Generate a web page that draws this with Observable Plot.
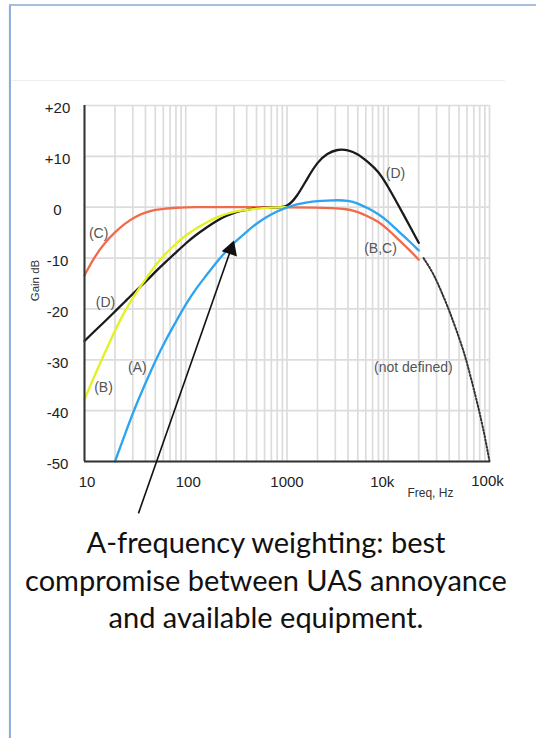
<!DOCTYPE html>
<html><head><meta charset="utf-8">
<script src="https://cdn.jsdelivr.net/npm/d3@7"></script>
<script src="https://cdn.jsdelivr.net/npm/@observablehq/plot@0.6"></script>
<style>
html,body{margin:0;padding:0;background:#fff;}
#page{position:relative;width:536px;height:738px;overflow:hidden;background:#fff;}
#frame{position:absolute;left:9px;top:4px;width:560px;height:780px;border-left:2px solid #8eaedb;border-top:2px solid #a9bedd;box-shadow:0 1px 2px rgba(0,0,0,0.12);}
#rule{position:absolute;left:12px;top:80px;width:493px;height:1px;background:#eeeeee;}
#chart{position:absolute;left:0;top:0;}
#caption{position:absolute;left:0;width:532px;top:523px;text-align:center;font-family:Lato,'Open Sans',sans-serif;font-size:29px;line-height:37.5px;color:#111;}
</style></head><body>
<div id="page"><div id="frame"></div><div id="rule"></div><div id="chart"></div>
<div id="caption">A-frequency weighting: best<br>compromise between UAS annoyance<br>and available equipment.</div></div>
<script>
// ---- data ----
const xTicks = [10, 100, 1000, 10000, 100000];
const xTickLabels = ["10", "100", "1000", "10k", "100k"];
const yTicks = [20, 10, 0, -10, -20, -30, -40, -50];
const yTickLabels = ["+20", "+10", "0", "-10", "-20", "-30", "-40", "-50"];
const gridMultipliers = [1, 2, 3, 4, 5, 6, 7, 8, 9];
const gridDecades = [10, 100, 1000, 10000];

const freqA = [20,25,31.5,40,50,63,80,100,125,160,200,250,315,400,500,630,800,1000,1250,1600,2000,2500,3150,4000,5000,6300,8000,10000,12500,16000,20000];
const gainA = [-50,-44.7,-39.4,-34.6,-30.2,-26.2,-22.5,-19.1,-16.1,-13.4,-10.9,-8.6,-6.6,-4.8,-3.2,-1.9,-0.8,0,0.6,1.0,1.2,1.3,1.4,1.3,0.8,-0.2,-1.3,-2.8,-4.7,-6.6,-8.5];

const freqB = [10,12.5,16,20,25,31.5,40,50,63,80,100,125,160,200,250,315,400,500,630,800,1000];
const gainB = [-37.8,-33.2,-28.5,-24.2,-20.4,-17.1,-14.2,-11.4,-9.1,-7.2,-5.5,-4.2,-3.0,-2.0,-1.3,-0.8,-0.5,-0.3,-0.1,0,0];

const freqC = [10,12.5,16,20,25,31.5,40,50,63,80,100,125,160,200,500,1000,2000,3150,4000,5000,6300,8000,10000,12500,16000,20000];
const gainC = [-13.4,-9.8,-6.9,-4.9,-3.2,-1.9,-1.0,-0.5,-0.25,-0.1,0,0,0,0,0,0,-0.1,-0.2,-0.4,-0.9,-1.8,-2.8,-4.4,-6.3,-8.3,-10.3];

const freqD = [10,12.5,16,20,25,31.5,40,50,63,80,100,125,160,200,250,315,400,500,630,800,1000,1250,1600,2000,2500,3150,4000,5000,6300,8000,10000,12500,16000,20000];
const gainD = [-26.3,-24.4,-22.4,-20.5,-18.6,-16.6,-14.7,-12.7,-10.8,-8.9,-7.1,-5.5,-4.0,-2.7,-1.7,-0.9,-0.5,-0.2,-0.1,0,0,2.0,5.8,8.9,10.6,11.4,11.3,10.5,8.9,7.1,4.0,0.5,-3.4,-7.0];

const freqUndef = [22300,28000,35000,41000,54000,60000,76000,90000,100000];
const gainUndef = [-10,-13,-17.5,-20.8,-27.5,-30.6,-38.5,-45,-50];

const labelText = ["(C)", "(D)", "(B)", "(A)", "(D)", "(B,C)", "(not defined)"];
const labelFreq = [13.8, 16.1, 15.4, 33.3, 11800, 8380, 17700];
const labelGain = [-5.2, -18.7, -35.4, -31.5, 6.6, -8.1, -31.5];

const arrowFreq = [34.1, 279];      // tail, head centre
const arrowGain = [-60.2, -8.3];
const arrowAngle = 19.25;

const xLabelText = ["Freq, Hz"];
const xLabelFreq = [26100];
const xLabelGain = [-56.3];
const yLabelText = ["Gain dB"];

// ---- build ----
const zip = (f, g) => f.map((v, i) => ({f: v, g: g[i]}));
const xGrid = gridDecades.flatMap(d => gridMultipliers.map(m => m * d)).concat([100000]);
const labels = labelText.map((t, i) => ({t, f: labelFreq[i], g: labelGain[i]}));
const curve = "basis";
const fmtX = d => xTickLabels[xTicks.indexOf(d)];
const xAxis = (ticks, dx, dy) => Plot.axisX({ticks, tickFormat: fmtX, tickSize: 0, tickPadding: 15, fontSize: 15, dx, dy, label: null});

const chart = Plot.plot({
  width: 536, height: 520,
  marginLeft: 84, marginRight: 47, marginTop: 105, marginBottom: 59,
  style: {fontFamily: "'Liberation Sans', Arial, sans-serif", fontSize: "15px", background: "transparent", overflow: "visible", color: "#222"},
  x: {type: "log", domain: [10, 100000]},
  y: {domain: [-50, 20]},
  marks: [
    Plot.ruleX(xGrid, {stroke: "#dcdcdc", strokeWidth: 1.7}),
    Plot.ruleY(yTicks, {stroke: "#dcdcdc", strokeWidth: 1.7}),
    xAxis(xTicks.slice(0, 2), 2.5, 0),
    xAxis(xTicks.slice(2, 3), 0, 0),
    xAxis(xTicks.slice(3, 4), -6, 0),
    xAxis(xTicks.slice(4, 5), -2, -1),
    Plot.axisY({ticks: yTicks, tickFormat: d => yTickLabels[yTicks.indexOf(d)], tickSize: 0, tickPadding: 27, textAnchor: "middle", fontSize: 15, dy: 3, label: null}),
    Plot.line(zip(freqC, gainC), {x: "f", y: "g", stroke: "#ef6b4b", strokeWidth: 2.3, curve}),
    Plot.line(zip(freqD, gainD), {x: "f", y: "g", stroke: "#1a1a1a", strokeWidth: 2.3, curve}),
    Plot.line(zip(freqB, gainB), {x: "f", y: "g", stroke: "#e2f21e", strokeWidth: 2.3, curve}),
    Plot.line(zip(freqA, gainA), {x: "f", y: "g", stroke: "#2ba4f2", strokeWidth: 2.3, curve}),
    Plot.line(zip(freqUndef, gainUndef), {x: "f", y: "g", stroke: "#333", strokeWidth: 2, strokeDasharray: "1.6,1.9", curve}),
    Plot.ruleX([10], {y1: -50, y2: 20, stroke: "#333", strokeWidth: 2}),
    Plot.ruleY([-50], {x1: 10, x2: 100000, stroke: "#333", strokeWidth: 2}),
    Plot.text(labels, {x: "f", y: "g", text: "t", fontSize: 14, fill: "#555"}),
    Plot.text(xLabelText, {x: xLabelFreq, y: xLabelGain, text: d => d, fontSize: 12, fill: "#333", clip: false}),
    Plot.text(yLabelText, {frameAnchor: "left", textAnchor: "middle", dx: -49, dy: -3, rotate: -90, fontSize: 11.5, fill: "#333"}),
    Plot.link([0], {x1: arrowFreq[0], y1: arrowGain[0], x2: arrowFreq[1], y2: arrowGain[1], stroke: "#111", strokeWidth: 1.6, clip: false}),
    Plot.dot([0], {x: arrowFreq[1], y: arrowGain[1], symbol: "triangle", r: 6, fill: "#111", stroke: "none", rotate: arrowAngle, clip: false})
  ]
});
document.getElementById("chart").appendChild(chart);
</script>
</body></html>
